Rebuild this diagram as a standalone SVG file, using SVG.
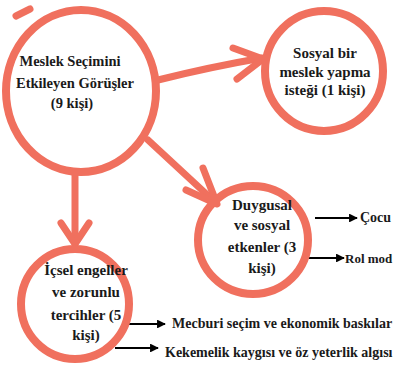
<svg xmlns="http://www.w3.org/2000/svg" width="393" height="368" viewBox="0 0 393 368">
<defs>
<style>
.ring{fill:none;stroke:#F0705E;stroke-width:8}
.red{fill:none;stroke:#F0705E;stroke-width:7;stroke-linecap:round;stroke-linejoin:round}
.blk{fill:none;stroke:#000;stroke-width:2.2}
.t{font-family:'Liberation Serif','DejaVu Serif',serif;font-weight:700;fill:#1a1a1a}
.c{text-anchor:middle;font-size:15px}
.m{text-anchor:middle;font-size:14.5px}
.l{font-size:14px}
</style>
<marker id="ah" viewBox="0 0 10 10" refX="9" refY="5" markerWidth="4" markerHeight="4" orient="auto" markerUnits="strokeWidth">
<path d="M0 0 L10 5 L0 10 Z" fill="#000"/>
</marker>
</defs>
<rect width="393" height="368" fill="#fff"/>

<g id="connectors">
<path class="red" d="M158 80 Q210 67 262 58"/>
<path class="red" d="M233 48 L263 59 L237 79"/>
<path class="red" d="M148 140 L216 203"/>
<path class="red" d="M203 168 L217 204 L186 190"/>
<path class="red" d="M75 174 L75 243"/>
<path class="red" d="M61 223 L75 244 L89 223"/>
<path class="blk" d="M315 218 L357 218" marker-end="url(#ah)"/>
<path class="blk" d="M303 258 L344 258" marker-end="url(#ah)"/>
<path class="blk" d="M123 324 L165 324" marker-end="url(#ah)"/>
<path class="blk" d="M115 348 L158 348" marker-end="url(#ah)"/>
</g>

<g id="main">
<ellipse class="ring" cx="81" cy="91" rx="75" ry="81"/>
<path class="red" d="M16 16 L30 9"/>
<text class="t m" x="70" y="66">Meslek Seçimini</text>
<text class="t m" x="75" y="88">Etkileyen Görüşler</text>
<text class="t m" x="72" y="108">(9 kişi)</text>
</g>

<g id="sosyal">
<ellipse class="ring" cx="324" cy="71" rx="59" ry="60"/>
<text class="t c" x="325" y="58">Sosyal bir</text>
<text class="t c" x="325" y="77">meslek yapma</text>
<text class="t c" x="325" y="95">isteği (1 kişi)</text>
</g>

<g id="duygusal">
<ellipse class="ring" cx="253" cy="240" rx="55" ry="54"/>
<text class="t c" x="262" y="210">Duygusal</text>
<text class="t c" x="262" y="230">ve sosyal</text>
<text class="t c" x="262" y="252">etkenler (3</text>
<text class="t c" x="262" y="273">kişi)</text>
</g>

<g id="icsel">
<ellipse class="ring" cx="75" cy="304" rx="54" ry="55"/>
<text class="t c" x="86" y="275">İçsel engeller</text>
<text class="t c" x="86" y="297">ve zorunlu</text>
<text class="t c" x="86" y="320">tercihler (5</text>
<text class="t c" x="86" y="340">kişi)</text>
</g>

<g id="labels">
<text class="t l" x="360" y="222">Çocu</text>
<text class="t" x="345" y="263" font-size="13">Rol mod</text>
<text class="t l" x="172" y="328">Mecburi seçim ve ekonomik baskılar</text>
<text class="t l" x="165" y="357">Kekemelik kaygısı ve öz yeterlik algısı</text>
</g>
</svg>
